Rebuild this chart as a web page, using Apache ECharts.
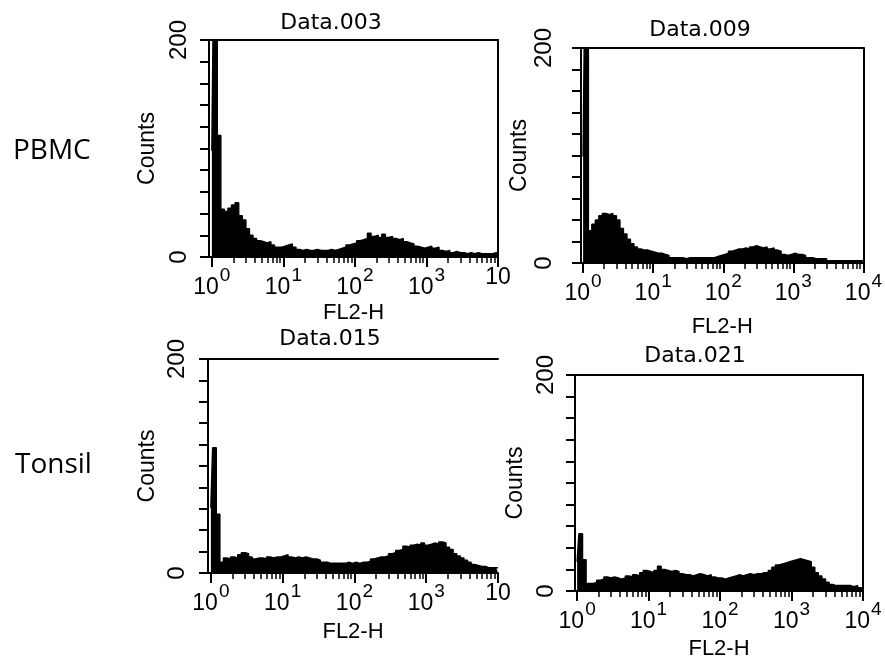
<!DOCTYPE html>
<html><head><meta charset="utf-8">
<script src="https://cdn.jsdelivr.net/npm/echarts@6/dist/echarts.min.js"></script>
<style>html,body{margin:0;padding:0;background:#fff}#c{width:885px;height:667px}</style>
</head><body><div id="c"></div>
<script>
// ---- data (log10 channel exponent -> counts) ----
const binExponents = [0,0.05,0.1,0.15,0.2,0.25,0.3,0.35,0.4,0.45,0.5,0.55,0.6,0.65,0.7,0.75,0.8,0.85,0.9,0.95,1,1.05,1.1,1.15,1.2,1.25,1.3,1.35,1.4,1.45,1.5,1.55,1.6,1.65,1.7,1.75,1.8,1.85,1.9,1.95,2,2.05,2.1,2.15,2.2,2.25,2.3,2.35,2.4,2.45,2.5,2.55,2.6,2.65,2.7,2.75,2.8,2.85,2.9,2.95,3,3.05,3.1,3.15,3.2,3.25,3.3,3.35,3.4,3.45,3.5,3.55,3.6,3.65,3.7,3.75,3.8,3.85,3.9,3.95,4];
const data003 = [98,260,112,44,42,45,48,50,38,34, 26,20,17,15,14,13,14,11,9,9, 10,11,12,9,7,6,7,6,6,7, 6,6,6,7,6,7,8,9,11,12, 13,15,16,17,22,19,20,18,21,18, 19,17,16,17,14,13,12,10,9,8, 9,10,8,9,6,5,6,4,5,4, 4,3,4,3,4,3,3,3,3,4, 3];
const data009 = [99,260,30,36,40,44,46,45,46,44, 40,32,27,22,18,15,13,12,12,11, 10,9,9,8,7,5,5,5,5,4, 5,5,5,5,5,5,5,5,6,7, 8,9,11,12,13,13,14,13,15,16, 15,14,15,13,14,12,11,8,7,8, 9,8,8,7,5,5,4,4,4,4, 2,2,2,2,2,2,2,2,2,2, 2];
const data015 = [61,117,55,10,14,13,15,14,17,19, 18,15,13,14,14,13,15,14,15,15, 16,17,15,14,15,14,15,14,13,13, 12,10,10,9,9,9,9,9,10,9, 10,9,10,10,11,13,14,15,15,16, 18,19,21,22,25,24,26,27,26,28, 26,27,28,27,29,28,24,22,18,16, 14,12,10,8,7,6,6,5,5,5, 5];
const data021 = [27,53,29,7,7,8,10,11,13,12, 13,12,11,12,14,13,15,14,17,19, 18,17,19,23,20,19,18,19,18,16, 15,15,14,15,16,15,14,15,13,12, 12,11,12,13,14,15,14,15,16,15, 16,16,17,17,19,22,24,25,26,27, 28,29,30,29,28,27,22,17,14,11, 8,6,5,5,5,5,5,4,5,3, 2];
const panelTitles = ['Data.003','Data.009','Data.015','Data.021'];
const rowLabels = ['PBMC','Tonsil'];
const xAxisTitle = 'FL2-H';
const yAxisTitle = 'Counts';
const decadeTicks = [0,1,2,3,4];
const yTickValues = [0,20,40,60,80,100,120,140,160,180,200];
const yLabelValues = [0,200];
const minorTicks = [];
[0,1,2,3].forEach(d => [2,3,4,5,6,7,8,9].forEach(k => minorTicks.push(d + Math.log10(k))));

// ---- layout ----
const layouts = [
  {values:data003, title:panelTitles[0], left:209, top:40, width:289, height:217, xmin:-0.04, right:true, cut:true, tx:331, ty:23, nameGapX:45, nameGapY:50, yMargin:18},
  {values:data009, title:panelTitles[1], left:581, top:48, width:287, height:215, xmin:-0.03, right:true, cut:false, tx:700, ty:30, nameGapX:53, nameGapY:44, yMargin:25},
  {values:data015, title:panelTitles[2], left:208, top:359, width:290, height:214, xmin:-0.04, right:false, cut:true, tx:330, ty:339, nameGapX:48, nameGapY:49, yMargin:19},
  {values:data021, title:panelTitles[3], left:575, top:375, width:288, height:216, xmin:-0.03, right:true, cut:false, tx:695, ty:356, nameGapX:47, nameGapY:48, yMargin:17}
];
const fSans = "'Liberation Sans',Arial,sans-serif";
const black = '#000';

const grids=[], xAxes=[], yAxes=[], series=[], graphics=[];
layouts.forEach((L,p)=>{
  grids.push({left:L.left, top:L.top, width:L.width, height:L.height, containLabel:false});
  const base = {type:'value', gridIndex:p, min:L.xmin, max:4, splitLine:{show:false}};
  xAxes.push(Object.assign({}, base, {
    position:'bottom',
    axisLine:{show:true, onZero:false, lineStyle:{color:black, width:2}},
    axisTick:{show:true, inside:false, length:10, lineStyle:{color:black, width:2}, customValues:decadeTicks},
    axisLabel:{show:true, margin:9, customValues:decadeTicks,
      formatter: v => (L.cut && v === 4) ? '{b|10}' : '{b|10}{s|' + v + '}',
      rich:{
        b:{fontFamily:fSans, fontSize:23, color:black, verticalAlign:'bottom'},
        s:{fontFamily:fSans, fontSize:19, color:black, verticalAlign:'top', padding:[0,0,14,1]}
      }},
    name:xAxisTitle, nameLocation:'middle', nameGap:L.nameGapX,
    nameTextStyle:{fontFamily:fSans, fontSize:22, color:black}
  }));
  xAxes.push(Object.assign({}, base, {
    position:'bottom',
    axisLine:{show:false, onZero:false},
    axisTick:{show:true, inside:false, length:6, lineStyle:{color:black, width:1.5}, customValues:minorTicks},
    axisLabel:{show:false}
  }));
  xAxes.push(Object.assign({}, base, {
    position:'top',
    axisLine:{show:true, onZero:false, lineStyle:{color:black, width:2}},
    axisTick:{show:false}, axisLabel:{show:false}
  }));
  yAxes.push({type:'value', gridIndex:p, min:0, max:200, position:'left', splitLine:{show:false},
    axisLine:{show:true, onZero:false, lineStyle:{color:black, width:2}},
    axisTick:{show:true, inside:false, length:9, lineStyle:{color:black, width:2}, customValues:yTickValues},
    axisLabel:{show:true, rotate:90, margin:L.yMargin, customValues:yLabelValues, fontFamily:fSans, fontSize:24, color:black},
    name:yAxisTitle, nameLocation:'middle', nameRotate:90, nameGap:L.nameGapY,
    nameTextStyle:{fontFamily:fSans, fontSize:23, color:black}
  });
  yAxes.push({type:'value', gridIndex:p, min:0, max:200, position:'right', splitLine:{show:false},
    axisLine:{show:L.right, onZero:false, lineStyle:{color:black, width:2}},
    axisTick:{show:false}, axisLabel:{show:false}
  });
  series.push({type:'line', xAxisIndex:3*p, yAxisIndex:2*p,
    data: binExponents.map((e,i)=>[e, L.values[i]]),
    step:'middle', symbol:'none', clip:true,
    lineStyle:{color:black, width:1.5}, areaStyle:{color:black, opacity:1}
  });
  graphics.push({type:'text', x:L.tx, y:L.ty, style:{text:L.title, font:"22px 'DejaVu Sans', sans-serif", fill:black, textAlign:'center', textVerticalAlign:'middle', align:'center', verticalAlign:'middle'}});
});
graphics.push({type:'text', x:13, y:151, style:{text:rowLabels[0], font:"28px 'Open Sans', sans-serif", fill:black, textAlign:'left', textVerticalAlign:'middle', align:'left', verticalAlign:'middle'}});
graphics.push({type:'text', x:15, y:465, style:{text:rowLabels[1], font:"28px 'Open Sans', sans-serif", fill:black, textAlign:'left', textVerticalAlign:'middle', align:'left', verticalAlign:'middle'}});

const chart = echarts.init(document.getElementById('c'));
chart.setOption({
  animation:false,
  backgroundColor:'#fff',
  grid:grids, xAxis:xAxes, yAxis:yAxes, series:series, graphic:graphics
});
</script></body></html>
